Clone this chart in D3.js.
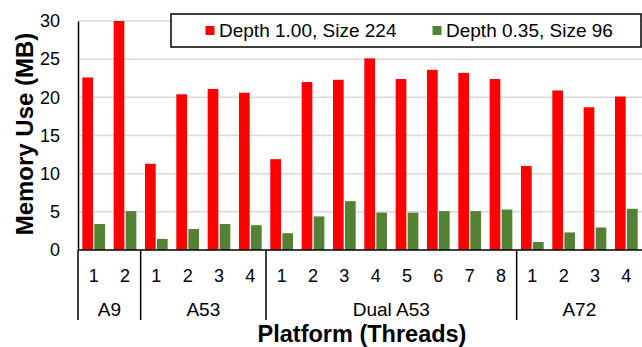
<!DOCTYPE html>
<html>
<head>
<meta charset="utf-8">
<script src="https://cdn.jsdelivr.net/npm/d3@7"></script>
<style>
  html, body { margin: 0; padding: 0; background: #fff; }
  svg { display: block; }
  text { font-family: "Liberation Sans", Arial, sans-serif; fill: #000; }
</style>
</head>
<body>
<svg id="chart" width="642" height="347"></svg>
<script>
// ---- Data ----
const platforms = ["A9", "A53", "Dual A53", "A72"];
const threadCounts = [2, 4, 8, 4];
const threadLabels = ["1","2", "1","2","3","4", "1","2","3","4","5","6","7","8", "1","2","3","4"];
const seriesNames = ["Depth 1.00, Size 224", "Depth 0.35, Size 96"];
const depth100 = [22.6, 30.0, 11.3, 20.4, 21.1, 20.6, 11.9, 22.0, 22.3, 25.1, 22.4, 23.6, 23.2, 22.4, 11.0, 20.9, 18.7, 20.1];
const depth035 = [3.4, 5.1, 1.45, 2.75, 3.4, 3.25, 2.2, 4.4, 6.4, 4.9, 4.9, 5.1, 5.1, 5.3, 1.05, 2.3, 2.95, 5.4];
const yTicks = [0, 5, 10, 15, 20, 25, 30];
const seriesColors = ["#ff0000", "#548235"];

(function () {
// ---- Layout ----
const svg = d3.select("#chart");
const mLeft = 78, mRight = 642, mTop = 21, mBottom = 250;

const idx = d3.range(threadLabels.length);
const x0 = d3.scaleBand().domain(idx).range([mLeft, mRight]).paddingInner(0).paddingOuter(0);
const x1 = d3.scaleBand().domain([0, 1]).range([0, x0.bandwidth()]).paddingInner(0.11).paddingOuter(0.36);
const y = d3.scaleLinear().domain([0, 30]).range([mBottom, mTop]);

// gridlines
svg.append("g").selectAll("line").data(yTicks.filter(t => t > 0)).join("line")
  .attr("x1", mLeft).attr("x2", mRight)
  .attr("y1", d => y(d)).attr("y2", d => y(d))
  .attr("stroke", "#d9d9d9").attr("stroke-width", 1.5);

// bars
const series = [depth100, depth035];
series.forEach((vals, s) => {
  svg.append("g").selectAll("rect").data(vals).join("rect")
    .attr("x", (d, i) => x0(i) + x1(s))
    .attr("width", x1.bandwidth())
    .attr("y", d => y(d))
    .attr("height", d => y(0) - y(d))
    .attr("fill", seriesColors[s]);
});

// y axis
const yAxis = d3.axisLeft(y).tickValues(yTicks).tickSizeInner(0).tickSizeOuter(0).tickPadding(18);
const yg = svg.append("g").attr("transform", `translate(${mLeft},0)`).call(yAxis);
yg.select(".domain").attr("stroke", "#000").attr("stroke-width", 1.5);
yg.selectAll("text").style("font-size", "18px").style("font-family", "'Liberation Sans', Arial, sans-serif");

// x axis line
svg.append("line").attr("x1", mLeft).attr("x2", mRight).attr("y1", mBottom).attr("y2", mBottom)
  .attr("stroke", "#000").attr("stroke-width", 1.5);

// thread labels
svg.append("g").selectAll("text").data(threadLabels).join("text")
  .attr("x", (d, i) => x0(i) + x0.bandwidth() / 2)
  .attr("y", 282)
  .attr("text-anchor", "middle")
  .style("font-size", "18px")
  .text(d => d);

// group separators and labels
const starts = [];
let acc = 0;
threadCounts.forEach(c => { starts.push(acc); acc += c; });
svg.append("g").selectAll("line").data(starts).join("line")
  .attr("x1", i => x0(i)).attr("x2", i => x0(i))
  .attr("y1", mBottom).attr("y2", 320)
  .attr("stroke", "#000").attr("stroke-width", 1.5);

svg.append("g").selectAll("text").data(platforms).join("text")
  .attr("x", (d, g) => {
    const a = x0(starts[g]);
    const b = x0(starts[g] + threadCounts[g] - 1) + x0.bandwidth();
    return (a + b) / 2;
  })
  .attr("y", 315.5)
  .attr("text-anchor", "middle")
  .style("font-size", "19px")
  .text(d => d);

// axis titles
svg.append("text")
  .attr("transform", "translate(33,134) rotate(-90)")
  .attr("text-anchor", "middle")
  .style("font-size", "24px").style("font-weight", "bold")
  .text("Memory Use (MB)");

svg.append("text")
  .attr("x", 362).attr("y", 342)
  .attr("text-anchor", "middle")
  .style("font-size", "23.5px").style("font-weight", "bold")
  .text("Platform (Threads)");

// legend
const lg = svg.append("g");
lg.append("rect").attr("x", 171).attr("y", 14).attr("width", 470).attr("height", 33)
  .attr("fill", "#fff").attr("stroke", "#000").attr("stroke-width", 1.5);
const legendX = [205.5, 432.5];
seriesNames.forEach((name, s) => {
  lg.append("rect").attr("x", legendX[s]).attr("y", 26).attr("width", 9).attr("height", 9)
    .attr("fill", seriesColors[s]);
  lg.append("text").attr("x", legendX[s] + 13.5).attr("y", 37)
    .style("font-size", "19px").text(name);
});
})();
</script>
</body>
</html>
